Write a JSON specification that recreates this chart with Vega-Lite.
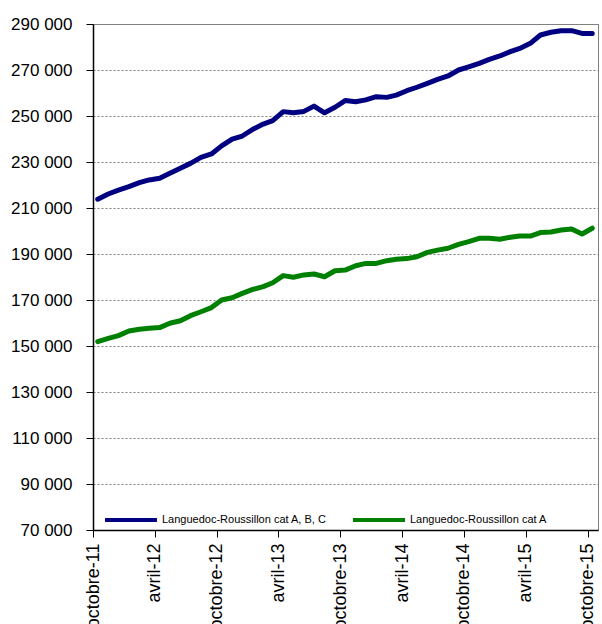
{
  "$schema": "https://vega.github.io/schema/vega-lite/v6.json",
  "width": 505,
  "height": 506,
  "autosize": {"type": "none"},
  "padding": {"left": 93, "top": 24, "right": 4, "bottom": 94},
  "background": "white",
  "config": {
    "view": {"stroke": "#808080", "strokeWidth": 1},
    "font": "Liberation Sans"
  },
  "data": {
    "values": [
      {"date": "2011-10-15", "series": "Languedoc-Roussillon cat A, B, C", "value": 213800},
      {"date": "2011-11-15", "series": "Languedoc-Roussillon cat A, B, C", "value": 216100},
      {"date": "2011-12-15", "series": "Languedoc-Roussillon cat A, B, C", "value": 217800},
      {"date": "2012-01-15", "series": "Languedoc-Roussillon cat A, B, C", "value": 219300},
      {"date": "2012-02-15", "series": "Languedoc-Roussillon cat A, B, C", "value": 221000},
      {"date": "2012-03-15", "series": "Languedoc-Roussillon cat A, B, C", "value": 222200},
      {"date": "2012-04-15", "series": "Languedoc-Roussillon cat A, B, C", "value": 222900},
      {"date": "2012-05-15", "series": "Languedoc-Roussillon cat A, B, C", "value": 225100},
      {"date": "2012-06-15", "series": "Languedoc-Roussillon cat A, B, C", "value": 227300},
      {"date": "2012-07-15", "series": "Languedoc-Roussillon cat A, B, C", "value": 229400},
      {"date": "2012-08-15", "series": "Languedoc-Roussillon cat A, B, C", "value": 232000},
      {"date": "2012-09-15", "series": "Languedoc-Roussillon cat A, B, C", "value": 233500},
      {"date": "2012-10-15", "series": "Languedoc-Roussillon cat A, B, C", "value": 237000},
      {"date": "2012-11-15", "series": "Languedoc-Roussillon cat A, B, C", "value": 239900},
      {"date": "2012-12-15", "series": "Languedoc-Roussillon cat A, B, C", "value": 241300},
      {"date": "2013-01-15", "series": "Languedoc-Roussillon cat A, B, C", "value": 244200},
      {"date": "2013-02-15", "series": "Languedoc-Roussillon cat A, B, C", "value": 246500},
      {"date": "2013-03-15", "series": "Languedoc-Roussillon cat A, B, C", "value": 248000},
      {"date": "2013-04-15", "series": "Languedoc-Roussillon cat A, B, C", "value": 251900},
      {"date": "2013-05-15", "series": "Languedoc-Roussillon cat A, B, C", "value": 251400},
      {"date": "2013-06-15", "series": "Languedoc-Roussillon cat A, B, C", "value": 252000},
      {"date": "2013-07-15", "series": "Languedoc-Roussillon cat A, B, C", "value": 254300},
      {"date": "2013-08-15", "series": "Languedoc-Roussillon cat A, B, C", "value": 251400},
      {"date": "2013-09-15", "series": "Languedoc-Roussillon cat A, B, C", "value": 253800},
      {"date": "2013-10-15", "series": "Languedoc-Roussillon cat A, B, C", "value": 256700},
      {"date": "2013-11-15", "series": "Languedoc-Roussillon cat A, B, C", "value": 256200},
      {"date": "2013-12-15", "series": "Languedoc-Roussillon cat A, B, C", "value": 257000},
      {"date": "2014-01-15", "series": "Languedoc-Roussillon cat A, B, C", "value": 258400},
      {"date": "2014-02-15", "series": "Languedoc-Roussillon cat A, B, C", "value": 258100},
      {"date": "2014-03-15", "series": "Languedoc-Roussillon cat A, B, C", "value": 259100},
      {"date": "2014-04-15", "series": "Languedoc-Roussillon cat A, B, C", "value": 261000},
      {"date": "2014-05-15", "series": "Languedoc-Roussillon cat A, B, C", "value": 262500},
      {"date": "2014-06-15", "series": "Languedoc-Roussillon cat A, B, C", "value": 264200},
      {"date": "2014-07-15", "series": "Languedoc-Roussillon cat A, B, C", "value": 265900},
      {"date": "2014-08-15", "series": "Languedoc-Roussillon cat A, B, C", "value": 267400},
      {"date": "2014-09-15", "series": "Languedoc-Roussillon cat A, B, C", "value": 270000},
      {"date": "2014-10-15", "series": "Languedoc-Roussillon cat A, B, C", "value": 271400},
      {"date": "2014-11-15", "series": "Languedoc-Roussillon cat A, B, C", "value": 272900},
      {"date": "2014-12-15", "series": "Languedoc-Roussillon cat A, B, C", "value": 274600},
      {"date": "2015-01-15", "series": "Languedoc-Roussillon cat A, B, C", "value": 276100},
      {"date": "2015-02-15", "series": "Languedoc-Roussillon cat A, B, C", "value": 278000},
      {"date": "2015-03-15", "series": "Languedoc-Roussillon cat A, B, C", "value": 279400},
      {"date": "2015-04-15", "series": "Languedoc-Roussillon cat A, B, C", "value": 281600},
      {"date": "2015-05-15", "series": "Languedoc-Roussillon cat A, B, C", "value": 285200},
      {"date": "2015-06-15", "series": "Languedoc-Roussillon cat A, B, C", "value": 286400},
      {"date": "2015-07-15", "series": "Languedoc-Roussillon cat A, B, C", "value": 287100},
      {"date": "2015-08-15", "series": "Languedoc-Roussillon cat A, B, C", "value": 287100},
      {"date": "2015-09-15", "series": "Languedoc-Roussillon cat A, B, C", "value": 285900},
      {"date": "2015-10-15", "series": "Languedoc-Roussillon cat A, B, C", "value": 285900},
      {"date": "2011-10-15", "series": "Languedoc-Roussillon cat A", "value": 151900},
      {"date": "2011-11-15", "series": "Languedoc-Roussillon cat A", "value": 153300},
      {"date": "2011-12-15", "series": "Languedoc-Roussillon cat A", "value": 154500},
      {"date": "2012-01-15", "series": "Languedoc-Roussillon cat A", "value": 156500},
      {"date": "2012-02-15", "series": "Languedoc-Roussillon cat A", "value": 157300},
      {"date": "2012-03-15", "series": "Languedoc-Roussillon cat A", "value": 157700},
      {"date": "2012-04-15", "series": "Languedoc-Roussillon cat A", "value": 158000},
      {"date": "2012-05-15", "series": "Languedoc-Roussillon cat A", "value": 159900},
      {"date": "2012-06-15", "series": "Languedoc-Roussillon cat A", "value": 161000},
      {"date": "2012-07-15", "series": "Languedoc-Roussillon cat A", "value": 163200},
      {"date": "2012-08-15", "series": "Languedoc-Roussillon cat A", "value": 164900},
      {"date": "2012-09-15", "series": "Languedoc-Roussillon cat A", "value": 166700},
      {"date": "2012-10-15", "series": "Languedoc-Roussillon cat A", "value": 170000},
      {"date": "2012-11-15", "series": "Languedoc-Roussillon cat A", "value": 171000},
      {"date": "2012-12-15", "series": "Languedoc-Roussillon cat A", "value": 172900},
      {"date": "2013-01-15", "series": "Languedoc-Roussillon cat A", "value": 174600},
      {"date": "2013-02-15", "series": "Languedoc-Roussillon cat A", "value": 175800},
      {"date": "2013-03-15", "series": "Languedoc-Roussillon cat A", "value": 177500},
      {"date": "2013-04-15", "series": "Languedoc-Roussillon cat A", "value": 180600},
      {"date": "2013-05-15", "series": "Languedoc-Roussillon cat A", "value": 179900},
      {"date": "2013-06-15", "series": "Languedoc-Roussillon cat A", "value": 180900},
      {"date": "2013-07-15", "series": "Languedoc-Roussillon cat A", "value": 181300},
      {"date": "2013-08-15", "series": "Languedoc-Roussillon cat A", "value": 180100},
      {"date": "2013-09-15", "series": "Languedoc-Roussillon cat A", "value": 182700},
      {"date": "2013-10-15", "series": "Languedoc-Roussillon cat A", "value": 183000},
      {"date": "2013-11-15", "series": "Languedoc-Roussillon cat A", "value": 184900},
      {"date": "2013-12-15", "series": "Languedoc-Roussillon cat A", "value": 185900},
      {"date": "2014-01-15", "series": "Languedoc-Roussillon cat A", "value": 185900},
      {"date": "2014-02-15", "series": "Languedoc-Roussillon cat A", "value": 187100},
      {"date": "2014-03-15", "series": "Languedoc-Roussillon cat A", "value": 187700},
      {"date": "2014-04-15", "series": "Languedoc-Roussillon cat A", "value": 188000},
      {"date": "2014-05-15", "series": "Languedoc-Roussillon cat A", "value": 188800},
      {"date": "2014-06-15", "series": "Languedoc-Roussillon cat A", "value": 190700},
      {"date": "2014-07-15", "series": "Languedoc-Roussillon cat A", "value": 191700},
      {"date": "2014-08-15", "series": "Languedoc-Roussillon cat A", "value": 192500},
      {"date": "2014-09-15", "series": "Languedoc-Roussillon cat A", "value": 194200},
      {"date": "2014-10-15", "series": "Languedoc-Roussillon cat A", "value": 195400},
      {"date": "2014-11-15", "series": "Languedoc-Roussillon cat A", "value": 196800},
      {"date": "2014-12-15", "series": "Languedoc-Roussillon cat A", "value": 196800},
      {"date": "2015-01-15", "series": "Languedoc-Roussillon cat A", "value": 196400},
      {"date": "2015-02-15", "series": "Languedoc-Roussillon cat A", "value": 197300},
      {"date": "2015-03-15", "series": "Languedoc-Roussillon cat A", "value": 197800},
      {"date": "2015-04-15", "series": "Languedoc-Roussillon cat A", "value": 197800},
      {"date": "2015-05-15", "series": "Languedoc-Roussillon cat A", "value": 199300},
      {"date": "2015-06-15", "series": "Languedoc-Roussillon cat A", "value": 199600},
      {"date": "2015-07-15", "series": "Languedoc-Roussillon cat A", "value": 200400},
      {"date": "2015-08-15", "series": "Languedoc-Roussillon cat A", "value": 200900},
      {"date": "2015-09-15", "series": "Languedoc-Roussillon cat A", "value": 198700},
      {"date": "2015-10-15", "series": "Languedoc-Roussillon cat A", "value": 201200}
    ]
  },
  "mark": {"type": "line", "strokeWidth": 5, "strokeJoin": "round", "strokeCap": "round"},
  "encoding": {
    "x": {
      "field": "date",
      "type": "temporal",
      "scale": {
        "type": "utc",
        "domain": [
          {"year": 2011, "month": 10, "date": 1, "utc": true},
          {"year": 2015, "month": 11, "date": 1, "utc": true}
        ]
      },
      "axis": {
        "title": null,
        "grid": false,
        "domainColor": "#000000",
        "domainWidth": 1.5,
        "tickColor": "#000000",
        "tickSize": 7,
        "values": [
          {"year": 2011, "month": 10, "date": 1, "utc": true},
          {"year": 2012, "month": 4, "date": 1, "utc": true},
          {"year": 2012, "month": 10, "date": 1, "utc": true},
          {"year": 2013, "month": 4, "date": 1, "utc": true},
          {"year": 2013, "month": 10, "date": 1, "utc": true},
          {"year": 2014, "month": 4, "date": 1, "utc": true},
          {"year": 2014, "month": 10, "date": 1, "utc": true},
          {"year": 2015, "month": 4, "date": 1, "utc": true},
          {"year": 2015, "month": 10, "date": 1, "utc": true}
        ],
        "labelExpr": "(utcFormat(datum.value, '%m') == '10' ? 'octobre-' : 'avril-') + utcFormat(datum.value, '%y')",
        "labelAngle": -90,
        "labelAlign": "right",
        "labelBaseline": "middle",
        "labelFontSize": 18,
        "labelColor": "#000000",
        "labelFont": "Liberation Sans",
        "labelPadding": 6,
        "labelOverlap": false,
        "labelFlush": false,
        "labelBound": false
      }
    },
    "y": {
      "field": "value",
      "type": "quantitative",
      "scale": {"domain": [70000, 290000], "nice": false, "zero": false},
      "axis": {
        "title": null,
        "values": [70000, 90000, 110000, 130000, 150000, 170000, 190000, 210000, 230000, 250000, 270000, 290000],
        "labelExpr": "replace(format(datum.value, ','), ',', ' ')",
        "labelFontSize": 17,
        "labelColor": "#000000",
        "labelFont": "Liberation Sans",
        "labelPadding": 14,
        "tickSize": 7,
        "tickColor": "#000000",
        "domainColor": "#000000",
        "domainWidth": 1.5,
        "grid": true,
        "gridColor": "#808080",
        "gridDash": [2, 2],
        "gridWidth": 1
      }
    },
    "color": {
      "field": "series",
      "type": "nominal",
      "scale": {
        "domain": ["Languedoc-Roussillon cat A, B, C", "Languedoc-Roussillon cat A"],
        "range": ["#000080", "#008000"]
      },
      "legend": {
        "title": null,
        "orient": "none",
        "legendX": 10,
        "legendY": 468,
        "direction": "horizontal",
        "columns": 2,
        "columnPadding": 18,
        "symbolType": "stroke",
        "symbolSize": 2700,
        "symbolStrokeWidth": 4,
        "labelFontSize": 11,
        "labelFont": "Liberation Sans",
        "labelColor": "#000000",
        "labelOffset": 3,
        "labelLimit": 300
      }
    }
  }
}
